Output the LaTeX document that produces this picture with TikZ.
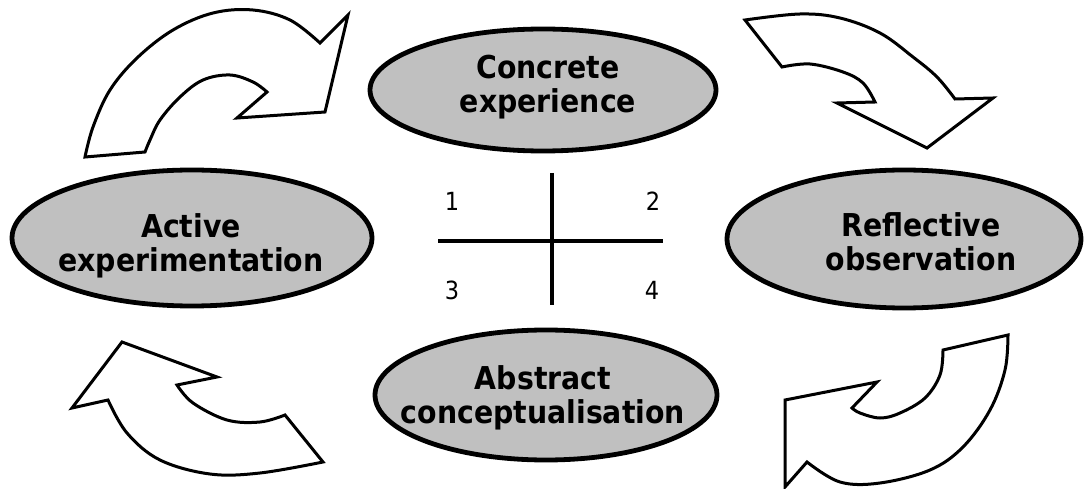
\documentclass[tikz,border=0pt]{standalone}
\usepackage{fontspec}
\setmainfont{DejaVu Sans}[FakeStretch=0.9]
\usetikzlibrary{shapes.geometric}
\definecolor{stagefill}{RGB}{192,192,192}
\tikzset{
  stage/.style={ellipse, draw=black, line width=4.8pt, fill=stagefill, inner sep=0pt, outer sep=0pt},
  stagetext/.style={align=center, font=\fontsize{31.5}{34}\selectfont\bfseries, inner sep=0pt},
  numtext/.style={font=\fontsize{25}{28}\selectfont, inner sep=0pt},
  blockarrow/.style={draw=black, line width=3pt, fill=white, line join=miter},
  crossline/.style={draw=black, line width=4.5pt}
}
\begin{document}
\begin{tikzpicture}[x=1pt,y=-1pt]
\useasboundingbox (0,0) rectangle (1085,489);

% stage ellipses
\node[stage, minimum width=346pt, minimum height=122pt] (ce) at (543,90) {};
\node[stage, minimum width=360pt, minimum height=136pt] (ae) at (192,238) {};
\node[stage, minimum width=354pt, minimum height=138pt] (ro) at (904,239) {};
\node[stage, minimum width=342pt, minimum height=130pt] (ac) at (546,395) {};

\node[stagetext] (cet) at (548,87) {Concrete\\experience};
\node[stagetext] (aet) at (191,246) {Active\\experimentation};
\node[stagetext] (rot) at (921,242) {Reflective\\observation};
\node[stagetext] (act) at (543,398) {Abstract\\conceptualisation};

% central cross
\coordinate (hl) at (438,241);
\coordinate (hr) at (663,241);
\coordinate (vt) at (552,173);
\coordinate (vb) at (552,305);
\draw[crossline] (hl) -- (hr);
\draw[crossline] (vt) -- (vb);
\node[numtext] (n1) at (452,201) {1};
\node[numtext] (n2) at (653,201) {2};
\node[numtext] (n3) at (452,290) {3};
\node[numtext] (n4) at (652,290) {4};

% top-left curved arrow
\draw[blockarrow] plot[smooth, tension=0.6] coordinates {(85,157) (93,127) (110,90) (137,58) (173,30) (213,13) (253,10) (290,20) (320,43)}
  -- (348,15) -- (325,112) -- (237,118) --
  plot[smooth, tension=0.6] coordinates {(267,92) (253,82) (230,75) (203,80) (180,97) (160,120) (150,140) (145,152)} -- cycle;

% top-right curved arrow
\draw[blockarrow] plot[smooth, tension=0.6] coordinates {(745,20) (800,14) (840,18) (880,33) (913,57) (937,77) (955,99)}
  -- (993,98) -- (927,148) -- (837,103) --
  plot[smooth, tension=0.6] coordinates {(875,102) (863,83) (843,72) (810,64) (782,67)} -- cycle;

% bottom-right curved arrow
\draw[blockarrow] plot[smooth, tension=0.6] coordinates {(1008,335) (1005,370) (990,410) (963,447) (930,470) (880,483) (840,482) (807,462)}
  -- (785,487) -- (785,400) -- (877,382) --
  plot[smooth, tension=0.6] coordinates {(852,408) (860,413) (880,418) (900,413) (925,398) (940,375) (943,350)} -- cycle;

% bottom-left curved arrow
\draw[blockarrow] plot[smooth, tension=0.6] coordinates {(323,462) (260,473) (210,474) (160,460) (127,433) (108,400)}
  -- (72,408) -- (122,342) -- (217,377) --
  plot[smooth, tension=0.6] coordinates {(177,385) (193,403) (227,420) (260,422) (285,415)} -- cycle;
\end{tikzpicture}
\end{document}
